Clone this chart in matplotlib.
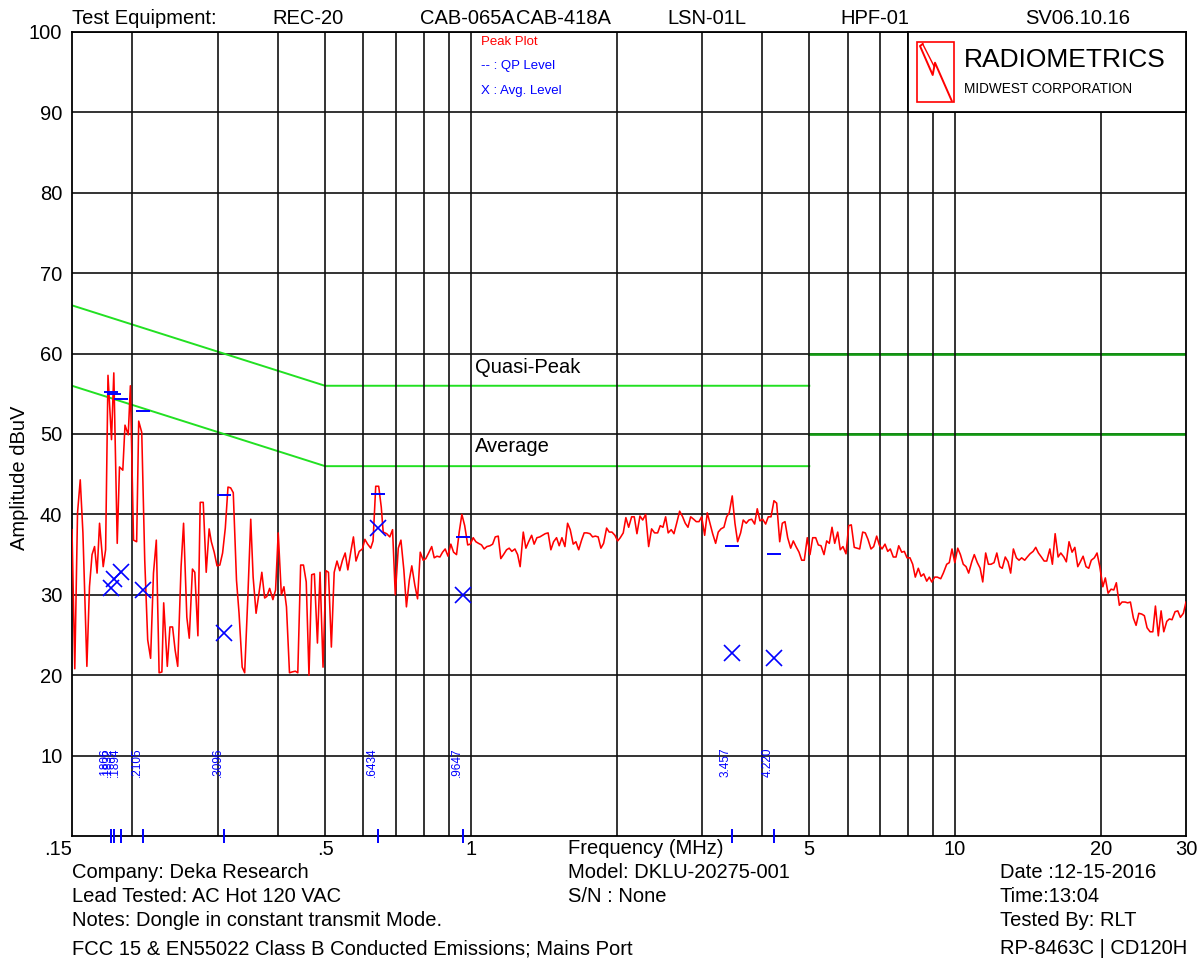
import matplotlib
matplotlib.use('Agg')
import matplotlib.pyplot as plt
from matplotlib.patches import Rectangle

plt.rcParams['font.family'] = ['Liberation Sans', 'DejaVu Sans']

# peak scan (MHz / dBuV)
peak_freq = [
    0.150, 0.152, 0.154, 0.156, 0.158, 0.161, 0.163, 0.165, 0.167, 0.169,
    0.171, 0.174, 0.176, 0.178, 0.181, 0.183, 0.186, 0.188, 0.191, 0.193,
    0.196, 0.198, 0.201, 0.204, 0.206, 0.209, 0.212, 0.215, 0.218, 0.221,
    0.224, 0.227, 0.230, 0.232, 0.236, 0.239, 0.242, 0.245, 0.248, 0.252,
    0.255, 0.259, 0.262, 0.266, 0.269, 0.273, 0.276, 0.280, 0.284, 0.288,
    0.291, 0.295, 0.299, 0.303, 0.307, 0.311, 0.315, 0.319, 0.323, 0.328,
    0.332, 0.337, 0.341, 0.346, 0.351, 0.355, 0.360, 0.365, 0.370, 0.375,
    0.379, 0.384, 0.390, 0.395, 0.400, 0.406, 0.411, 0.416, 0.422, 0.427,
    0.434, 0.439, 0.445, 0.451, 0.457, 0.463, 0.469, 0.475, 0.482, 0.488,
    0.495, 0.502, 0.508, 0.515, 0.522, 0.529, 0.536, 0.543, 0.550, 0.557,
    0.565, 0.572, 0.579, 0.588,
    0.597, 0.604, 0.612, 0.621, 0.628, 0.636, 0.645, 0.653, 0.659, 0.670,
    0.680, 0.689, 0.698, 0.708, 0.717, 0.727, 0.736, 0.746, 0.755, 0.766,
    0.776, 0.786, 0.797, 0.807, 0.818, 0.830, 0.840, 0.851, 0.863, 0.874,
    0.885, 0.897, 0.909, 0.921, 0.934, 0.946, 0.958, 0.971, 0.985, 0.997,
    1.011, 1.024, 1.037, 1.052, 1.065, 1.079, 1.095, 1.109, 1.123, 1.139,
    1.153, 1.168, 1.185, 1.200, 1.215, 1.233, 1.249, 1.264, 1.283, 1.299,
    1.316, 1.335, 1.351, 1.369, 1.388, 1.406, 1.424, 1.444, 1.463, 1.482,
    1.503, 1.522, 1.542, 1.564, 1.584, 1.604, 1.627, 1.648, 1.670, 1.693,
    1.714, 1.736, 1.762, 1.784, 1.807, 1.832, 1.856, 1.880, 1.907, 1.931,
    1.956, 1.984, 2.010, 2.035, 2.064, 2.090, 2.118, 2.148, 2.175, 2.203,
    2.235,
    2.264, 2.296, 2.329, 2.362, 2.396, 2.431, 2.461, 2.493, 2.525, 2.556,
    2.593, 2.627, 2.661, 2.699, 2.738, 2.772, 2.808, 2.844, 2.885, 2.921,
    2.959, 2.997, 3.040, 3.078, 3.117, 3.158, 3.203, 3.243, 3.285, 3.332,
    3.375, 3.417, 3.466, 3.511, 3.556, 3.607, 3.652, 3.705, 3.752, 3.802,
    3.856, 3.904, 3.955, 4.006, 4.063, 4.114, 4.168, 4.227, 4.282, 4.344,
    4.398, 4.455, 4.512, 4.577, 4.634, 4.694, 4.762, 4.823, 4.883, 4.953,
    5.017, 5.082, 5.155, 5.220, 5.287, 5.363, 5.432, 5.500, 5.571, 5.643,
    5.724, 5.794, 5.869, 5.954, 6.031, 6.106, 6.193, 6.273, 6.355, 6.446,
    6.527, 6.610, 6.706, 6.792, 6.890, 6.976, 7.067, 7.168, 7.261, 7.351,
    7.456, 7.553, 7.651, 7.761, 7.858, 7.959, 8.072, 8.177, 8.279, 8.398,
    8.507, 8.617, 8.741, 8.850,
    8.953, 9.081, 9.193, 9.343, 9.459, 9.613, 9.732, 9.858, 9.990, 10.13,
    10.26, 10.40, 10.54, 10.67, 10.83, 10.96, 11.12, 11.27, 11.41, 11.57,
    11.72, 11.87, 12.04, 12.20, 12.37, 12.52, 12.70, 12.87, 13.03, 13.20,
    13.39, 13.56, 13.73, 13.93, 14.10, 14.29, 14.50, 14.68, 14.87, 15.08,
    15.28, 15.47, 15.70, 15.89, 16.10, 16.33, 16.54, 16.78, 16.98, 17.20,
    17.45, 17.68, 17.93, 18.15, 18.39, 18.65, 18.89, 19.12, 19.40, 19.65,
    19.91, 20.20, 20.44, 20.71, 21.01, 21.28, 21.54, 21.85, 22.13, 22.45,
    22.74, 23.03, 23.36, 23.66, 23.97, 24.31, 24.61, 24.93, 25.29, 25.62,
    25.94, 26.30, 26.65, 26.99, 27.38, 27.72, 28.07, 28.48, 28.85, 29.21,
    29.63, 30.00,
]
peak_dbuv = [
    38.1, 20.8, 40.2, 44.3, 37.7, 21.1, 31.0, 35.0, 36.0, 32.7,
    38.9, 33.5, 35.6, 57.3, 49.3, 57.6, 36.4, 45.9, 45.5, 51.1,
    49.9, 56.0, 36.8, 36.6, 51.6, 50.2, 34.3, 24.4, 22.1, 32.7,
    36.8, 20.3, 20.4, 29.0, 21.1, 26.0, 26.0, 23.1, 21.1, 33.5,
    38.9, 27.2, 24.6, 33.2, 32.8, 24.9, 41.5, 41.5, 32.8, 38.2,
    36.6, 35.3, 33.6, 33.7, 35.2, 38.3, 43.4, 43.3, 42.7, 31.8,
    27.7, 21.0, 20.3, 29.4, 39.4, 32.2, 27.7, 30.2, 32.8, 29.6,
    29.8, 30.8, 29.4, 30.6, 37.7, 30.0, 31.0, 28.5, 20.3, 20.4,
    20.5, 20.3, 33.7, 33.7, 31.6, 20.0, 32.5, 32.6, 24.0, 32.8,
    21.0, 33.0, 32.8, 23.5, 32.8, 34.2, 33.0, 34.3, 35.2, 33.1,
    35.4, 37.2, 34.2, 35.4,
    35.7, 36.9, 36.3, 35.8, 36.7, 43.5, 43.5, 40.9, 37.8, 37.6,
    37.2, 38.1, 30.0, 35.8, 36.8, 33.1, 28.5, 31.8, 33.6, 31.2,
    29.5, 35.3, 34.3, 34.5, 35.2, 36.0, 34.6, 34.8, 34.7, 35.3,
    35.7, 34.8, 36.3, 35.3, 35.0, 37.8, 40.0, 38.6, 36.2, 36.3,
    37.1, 36.6, 36.4, 36.2, 35.7, 36.0, 36.1, 36.3, 37.2, 37.3,
    34.5, 35.0, 35.6, 35.8, 35.4, 35.7, 35.0, 33.5, 37.8, 35.8,
    36.6, 37.4, 36.3, 37.1, 37.2, 37.4, 37.6, 37.7, 35.6, 36.6,
    37.1, 36.1, 37.1, 36.0, 38.9, 38.1, 36.3, 36.6, 35.6, 36.8,
    37.7, 37.7, 37.6, 37.2, 37.3, 37.2, 35.8, 36.4, 38.3, 37.8,
    37.8, 37.4, 36.7, 37.1, 37.7, 39.6, 38.4, 39.7, 39.7, 37.6,
    39.8,
    39.3, 40.0, 36.0, 38.2, 37.7, 37.7, 38.6, 38.4, 39.7, 37.7,
    38.1, 37.6, 38.9, 40.4, 39.7, 38.9, 38.4, 39.7, 39.4, 39.1,
    39.1, 39.7, 37.4, 40.2, 38.9, 37.6, 36.4, 37.8, 38.2, 38.4,
    39.7, 40.2, 42.3, 38.9, 36.6, 37.7, 39.3, 38.9, 39.3, 39.4,
    38.8, 40.7, 39.2, 39.4, 38.8, 39.7, 39.7, 41.7, 41.4, 36.6,
    38.9, 39.1, 37.1, 35.8, 36.7, 36.0, 35.3, 34.3, 34.3, 37.1,
    35.0, 37.1, 37.1, 36.2, 36.1, 35.0, 36.7, 36.4, 38.4, 36.4,
    37.8, 35.6, 36.0, 35.1, 38.6, 38.7, 35.9, 35.8, 35.7, 37.8,
    37.7, 36.9, 35.7, 36.0, 37.3, 36.2, 35.7, 36.3, 35.4, 35.7,
    34.7, 34.7, 36.1, 35.3, 35.4, 34.6, 34.6, 33.8, 32.2, 33.3,
    32.3, 32.6, 31.7, 32.2,
    31.6, 32.2, 32.2, 32.0, 32.7, 33.8, 34.0, 35.7, 34.0, 35.8,
    35.0, 33.8, 33.5, 32.7, 34.1, 35.0, 34.0, 33.3, 31.6, 35.2,
    33.8, 33.8, 34.0, 35.2, 33.5, 33.3, 34.7, 34.1, 32.7, 35.7,
    34.6, 34.3, 34.6, 34.3, 34.7, 35.1, 35.4, 35.9, 35.2, 34.7,
    34.2, 34.2, 35.7, 33.8, 37.6, 34.7, 35.2, 34.7, 34.1, 36.6,
    35.3, 35.9, 33.5, 34.1, 34.8, 33.5, 33.3, 34.3, 34.6, 35.2,
    33.5, 31.0, 32.1, 30.2, 30.7, 30.6, 31.5, 28.7, 29.1, 29.1,
    29.0, 29.1, 27.1, 26.2, 27.7, 27.6, 27.4, 25.9, 25.4, 25.4,
    28.6, 24.9, 28.0, 25.4, 26.7, 27.0, 26.9, 27.9, 28.0, 27.2,
    27.7, 29.1,
]

# final measurements
marker_freq = [0.1806, 0.1832, 0.1894, 0.2105, 0.3096, 0.6434, 0.9647, 3.457, 4.220]
marker_label = ['.1806', '.1832', '.1894', '.2105', '.3096', '.6434', '.9647', '3.457', '4.220']
qp_dbuv = [55.2, 55.0, 54.4, 52.9, 42.4, 42.5, 37.2, 36.1, 35.1]
avg_dbuv = [30.8, 32.0, 32.8, 30.6, 25.2, 38.3, 30.0, 22.8, 22.2]

# FCC 15 / EN55022 class B limits
lim_freq = [0.15, 0.5, 5.0]
qp_limit = [66, 56, 56]
avg_limit = [56, 46, 46]
hf_freq = [5.0, 30.0]
qp_limit_hf = [60, 60]
avg_limit_hf = [50, 50]

xtick_vals = [0.15, 0.5, 1, 5, 10, 20, 30]
xtick_text = ['.15', '.5', '1', '5', '10', '20', '30']
grid_freqs = [0.2, 0.3, 0.4, 0.5, 0.6, 0.7, 0.8, 0.9, 1, 2, 3, 4, 5, 6, 7, 8, 9, 10, 20]

W, H = 1197, 961
fig = plt.figure(figsize=(W / 100, H / 100), dpi=100)
ax = fig.add_axes([72 / W, 1 - 836 / H, 1114 / W, 804 / H])
ax.set_xscale('log')
ax.set_xlim(0.15, 30)
ax.set_ylim(0, 100)

for f in grid_freqs:
    ax.axvline(f, color='#111111', lw=1.2, zorder=2)
ax.set_yticks(range(10, 101, 10))
ax.yaxis.grid(True, color='#111111', lw=1.2, zorder=2)
ax.set_axisbelow(True)
ax.set_xticks(xtick_vals)
ax.set_xticklabels(xtick_text)
ax.minorticks_off()
ax.tick_params(length=0, labelsize=14.5, colors='black')
ax.tick_params(axis='x', pad=3)
ax.tick_params(axis='y', pad=7)
ax.get_xticklabels()[0].set_horizontalalignment('right')
for s in ax.spines.values():
    s.set_color('black')
    s.set_linewidth(1.3)

green = '#22e022'
ax.plot(lim_freq, qp_limit, color=green, lw=1.4, zorder=1.5)
ax.plot(lim_freq, avg_limit, color=green, lw=1.4, zorder=1.5)
ax.plot(hf_freq, qp_limit_hf, color='#119911', lw=1.9, zorder=1.5)
ax.plot(hf_freq, avg_limit_hf, color='#119911', lw=1.9, zorder=1.5)
ax.text(1.02, 58.3, 'Quasi-Peak', fontsize=14.5, va='center', ha='left')
ax.text(1.02, 48.4, 'Average', fontsize=14.5, va='center', ha='left')

ax.plot(peak_freq, peak_dbuv, color='red', lw=1.15, zorder=4)

blue = '#0000ff'
ax.plot(marker_freq, qp_dbuv, ls='none', marker='_', ms=10, mew=1.4, color=blue, zorder=5)
ax.plot(marker_freq, avg_dbuv, ls='none', marker='x', ms=11, mew=1.2, color=blue, zorder=5)
ax.vlines(marker_freq, -0.9, 0.9, color=blue, lw=1.4, clip_on=False, zorder=6)
for f, lab in zip(marker_freq, marker_label):
    ax.text(f, 7.3, lab, rotation=90, color=blue, fontsize=8.5, ha='right', va='bottom')

ax.text(0.367, 0.988, 'Peak Plot', color='red', fontsize=9.5, transform=ax.transAxes, va='center')
ax.text(0.367, 0.958, '-- : QP Level', color=blue, fontsize=9.5, transform=ax.transAxes, va='center')
ax.text(0.367, 0.927, 'X : Avg. Level', color=blue, fontsize=9.5, transform=ax.transAxes, va='center')
ax.text(0.445, -0.015, 'Frequency (MHz)', fontsize=14.5, transform=ax.transAxes, va='center')

fig.text(20 / W, 1 - 478 / H, 'Amplitude dBuV', rotation=90, fontsize=14.5, ha='center', va='center')

# header
hdr_y = 1 - 18 / H
for x, s in [(72, 'Test Equipment:'), (272, 'REC-20'), (420, 'CAB-065A'), (516, 'CAB-418A'),
             (667, 'LSN-01L'), (840, 'HPF-01'), (1025, 'SV06.10.16')]:
    fig.text(x / W, hdr_y, s, fontsize=14.5, va='center')

# footer
rows = [872, 896, 921, 949]
left_txt = ['Company: Deka Research', 'Lead Tested: AC Hot 120 VAC',
            'Notes: Dongle in constant transmit Mode.',
            'FCC 15 & EN55022 Class B Conducted Emissions; Mains Port']
mid_txt = ['Model: DKLU-20275-001', 'S/N : None']
right_txt = ['Date :12-15-2016', 'Time:13:04', 'Tested By: RLT', 'RP-8463C | CD120H']
for y, s in zip(rows, left_txt):
    fig.text(72 / W, 1 - y / H, s, fontsize=14.5, va='center')
for y, s in zip(rows, mid_txt):
    fig.text(568 / W, 1 - y / H, s, fontsize=14.5, va='center')
for y, s in zip(rows, right_txt):
    fig.text(1000 / W, 1 - y / H, s, fontsize=14.5, va='center')

# logo box
lg = fig.add_axes([908 / W, 1 - 112 / H, 278 / W, 80 / H])
lg.set_xlim(0, 278)
lg.set_ylim(80, 0)
lg.set_xticks([])
lg.set_yticks([])
lg.set_facecolor('white')
for s in lg.spines.values():
    s.set_color('black')
    s.set_linewidth(1.3)
lg.add_patch(Rectangle((9, 10), 37, 60, fill=False, edgecolor='red', lw=1.2))
lg.plot([14.7, 12, 24.7, 27, 43.7], [12, 14, 43, 30.7, 68.7], color='red', lw=1.4)
lg.plot([14.7, 26.3], [12, 34.7], color='red', lw=1.0)
lg.text(56, 28, 'RADIOMETRICS', fontsize=19, va='center')
lg.text(56, 57, 'MIDWEST CORPORATION', fontsize=9.8, va='center')

fig.savefig('out.png', dpi=100)
